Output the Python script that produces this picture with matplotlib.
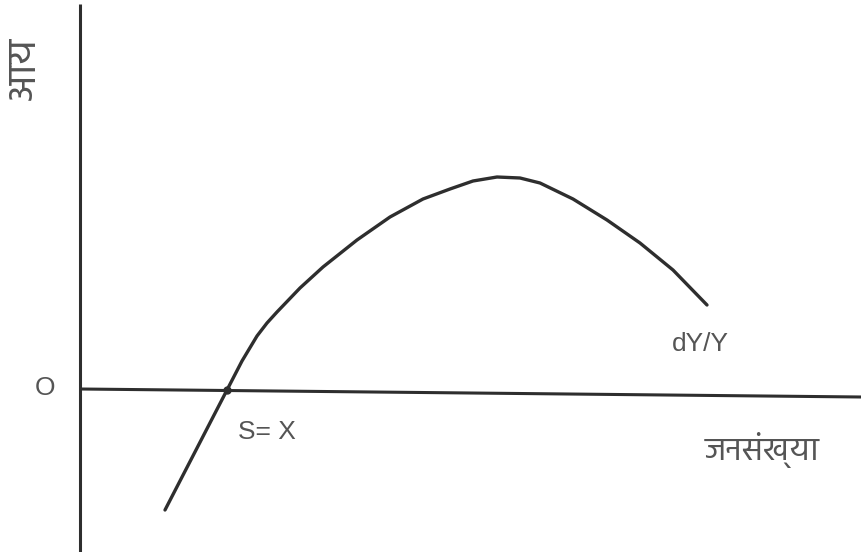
import os
import matplotlib
matplotlib.use("Agg")
import matplotlib.pyplot as plt
from matplotlib import font_manager
from matplotlib.ft2font import FT2Font

# ---- data (population on x, growth of income dY/Y on y; origin at O) ----
curve_x = [85, 101, 116, 132, 147, 162, 177, 187, 197, 220, 243, 277, 310, 343, 370,
           393, 417, 440, 460, 493, 527, 560, 593, 627]
curve_y = [-121, -90, -61, -30, -1, 28, 53, 66, 77, 101, 122, 149, 172, 190, 200,
           208, 212, 211, 206, 190, 169, 146, 119, 84]
x_axis_x = [0, 781]
x_axis_y = [0, -8]
y_axis_x = [0, 0]
y_axis_y = [-164, 385]
cross_x = [147]
cross_y = [-1]
y_label = "आय"
x_label = "जनसंख्या"
curve_label = "dY/Y"
point_label = "S= X"
origin_label = "O"

# ---- pick a Devanagari-capable font, preferring plain sans regular faces ----
prefs = ["Hind-Regular", "Mukta-Regular", "EkMukta-Regular", "NotoSansDevanagari-Regular",
         "Hind-Light", "Mukta-Light", "EkMukta-Light", "Poppins-Regular", "Kadwa-Regular"]
cands = {}
for path in font_manager.findSystemFonts():
    stem = os.path.splitext(os.path.basename(path))[0]
    cands.setdefault(stem, path)
deva_path = None
for s in prefs:
    if s in cands:
        deva_path = cands[s]
        break
if deva_path is None:
    for path in sorted(cands.values()):
        try:
            if 0x091C in FT2Font(path).get_charmap() and "unifont" not in path.lower():
                deva_path = path
                break
        except Exception:
            pass

fig = plt.figure(figsize=(8.61, 5.52), dpi=100)
ax = fig.add_axes([0, 0, 1, 1])
ax.set_xlim(-80, 781)
ax.set_ylim(-163, 389)
ax.axis("off")

lc = "#2e2e2e"
tc = "#555555"
ax.plot(y_axis_x, y_axis_y, color=lc, lw=2.2, solid_capstyle="butt")
ax.plot(x_axis_x, x_axis_y, color=lc, lw=2.2, solid_capstyle="butt")
ax.plot(curve_x, curve_y, color=lc, lw=2.4, solid_capstyle="round", solid_joinstyle="round")
ax.plot(cross_x, cross_y, "o", color=lc, ms=5)

lat = dict(fontsize=19, color=tc, family="Liberation Sans")
ax.text(-35, 1, origin_label, ha="center", va="center", **lat)
ax.text(158, -43, point_label, ha="left", va="center", **lat)
ax.text(592, 45, curve_label, ha="left", va="center", **lat)


def deva_text(x, y, s, target, rotation=0):
    fp = font_manager.FontProperties(fname=deva_path, size=20) if deva_path else \
        font_manager.FontProperties(size=20)
    t = ax.text(x, y, s, ha="center", va="center", rotation=rotation,
                color=tc, fontproperties=fp)
    fig.canvas.draw()
    bb = t.get_window_extent(fig.canvas.get_renderer())
    ext = bb.width if rotation == 0 else bb.height
    if ext > 0:
        fp2 = fp.copy()
        fp2.set_size(20 * target / ext)
        t.set_fontproperties(fp2)
    return t


deva_text(682, -61, x_label, 115)
deva_text(-56, 321, y_label, 63, rotation=90)

fig.savefig("out.png", dpi=100)
